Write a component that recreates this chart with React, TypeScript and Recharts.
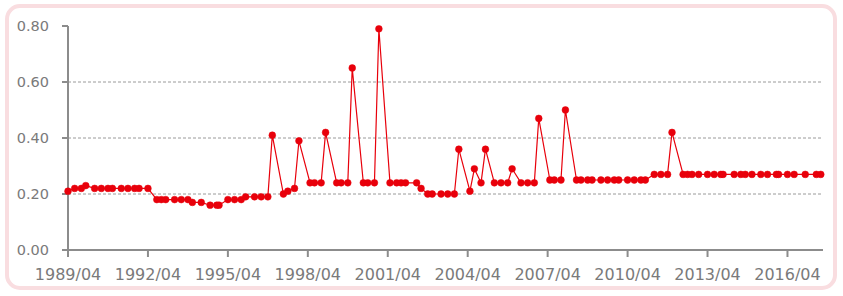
import { LineChart, Line, XAxis, YAxis, CartesianGrid } from 'recharts'

const dates = [
  '1989/04', '1989/07', '1989/10', '1989/12', '1990/04', '1990/07', '1990/10', '1990/12',
  '1991/04', '1991/07', '1991/10', '1991/12', '1992/04', '1992/08', '1992/10', '1992/12',
  '1993/04', '1993/07', '1993/10', '1993/12', '1994/04', '1994/08', '1994/11', '1994/12',
  '1995/04', '1995/07', '1995/10', '1995/12', '1996/04', '1996/07', '1996/10', '1996/12',
  '1997/05', '1997/07', '1997/10', '1997/12', '1998/05', '1998/07', '1998/10', '1998/12',
  '1999/05', '1999/07', '1999/10', '1999/12', '2000/05', '2000/07', '2000/10', '2000/12',
  '2001/05', '2001/08', '2001/10', '2001/12', '2002/05', '2002/07', '2002/10', '2002/12',
  '2003/04', '2003/07', '2003/10', '2003/12', '2004/05', '2004/07', '2004/10', '2004/12',
  '2005/04', '2005/07', '2005/10', '2005/12', '2006/04', '2006/07', '2006/10', '2006/12',
  '2007/05', '2007/07', '2007/10', '2007/12', '2008/05', '2008/07', '2008/10', '2008/12',
  '2009/04', '2009/07', '2009/10', '2009/12', '2010/04', '2010/07', '2010/10', '2010/12',
  '2011/04', '2011/07', '2011/10', '2011/12', '2012/05', '2012/07', '2012/09', '2012/12',
  '2013/04', '2013/07', '2013/10', '2013/11', '2014/04', '2014/07', '2014/09', '2014/12',
  '2015/04', '2015/07', '2015/11', '2015/12', '2016/04', '2016/07', '2016/12', '2017/05',
  '2017/07',
]

const values = [
  0.21, 0.22, 0.22, 0.23, 0.22, 0.22, 0.22, 0.22,
  0.22, 0.22, 0.22, 0.22, 0.22, 0.18, 0.18, 0.18,
  0.18, 0.18, 0.18, 0.17, 0.17, 0.16, 0.16, 0.16,
  0.18, 0.18, 0.18, 0.19, 0.19, 0.19, 0.19, 0.41,
  0.2, 0.21, 0.22, 0.39, 0.24, 0.24, 0.24, 0.42,
  0.24, 0.24, 0.24, 0.65, 0.24, 0.24, 0.24, 0.79,
  0.24, 0.24, 0.24, 0.24, 0.24, 0.22, 0.2, 0.2,
  0.2, 0.2, 0.2, 0.36, 0.21, 0.29, 0.24, 0.36,
  0.24, 0.24, 0.24, 0.29, 0.24, 0.24, 0.24, 0.47,
  0.25, 0.25, 0.25, 0.5, 0.25, 0.25, 0.25, 0.25,
  0.25, 0.25, 0.25, 0.25, 0.25, 0.25, 0.25, 0.25,
  0.27, 0.27, 0.27, 0.42, 0.27, 0.27, 0.27, 0.27,
  0.27, 0.27, 0.27, 0.27, 0.27, 0.27, 0.27, 0.27,
  0.27, 0.27, 0.27, 0.27, 0.27, 0.27, 0.27, 0.27,
  0.27,
]

const yTicks = [0, 0.2, 0.4, 0.6, 0.8]
const gridValues = [0.2, 0.4, 0.6]
const xTickLabels = [
  '1989/04', '1992/04', '1995/04', '1998/04', '2001/04',
  '2004/04', '2007/04', '2010/04', '2013/04', '2016/04',
]
const xEnd = '2017/08'

// months since 1989/04
function toMonth(d: string) {
  const [y, m] = d.split('/').map(Number)
  return (y - 1989) * 12 + (m - 4)
}

function fromMonth(n: number) {
  const total = n + 3
  const y = 1989 + Math.floor(total / 12)
  const m = (total % 12) + 1
  return `${y}/${String(m).padStart(2, '0')}`
}

const data = dates.map((d, i) => ({ m: toMonth(d), v: values[i] }))

const RED = '#e8000b'
const GRAY = '#8c8c8c'

export default function App() {
  return (
    <div style={{ position: 'absolute', left: 0, top: 0, width: 843, height: 296, background: '#fff' }}>
      <div
        style={{
          position: 'absolute',
          left: 5,
          top: 4,
          width: 824,
          height: 278,
          border: '4px solid #f9dde0',
          borderRadius: 15,
        }}
      />
      <div style={{ position: 'absolute', left: 0, top: 0 }}>
        <LineChart width={843} height={296} data={data} margin={{ top: 26, right: 20, bottom: 16, left: 0 }}>
          <CartesianGrid vertical={false} horizontalValues={gridValues} stroke="#9a9a9a" strokeDasharray="3 2" />
          <XAxis
            type="number"
            dataKey="m"
            domain={[0, toMonth(xEnd)]}
            ticks={xTickLabels.map(toMonth)}
            tickFormatter={fromMonth}
            height={30}
            tickSize={7}
            tickMargin={12}
            stroke={GRAY}
            strokeWidth={2}
            tick={{ fontSize: 16, fill: '#7a7a7a', fontFamily: 'DejaVu Sans' }}
            interval={0}
          />
          <YAxis
            type="number"
            domain={[0, 0.8]}
            ticks={yTicks}
            tickFormatter={(v: number) => v.toFixed(2)}
            width={68}
            tickSize={6}
            tickMargin={13}
            stroke={GRAY}
            strokeWidth={2}
            tick={{ fontSize: 14.5, fill: '#7a7a7a', fontFamily: 'DejaVu Sans' }}
            interval={0}
          />
          <Line
            dataKey="v"
            type="linear"
            stroke={RED}
            strokeWidth={1.2}
            dot={{ r: 3.4, fill: RED, stroke: RED, strokeWidth: 0.5 }}
            isAnimationActive={false}
          />
        </LineChart>
      </div>
    </div>
  )
}
